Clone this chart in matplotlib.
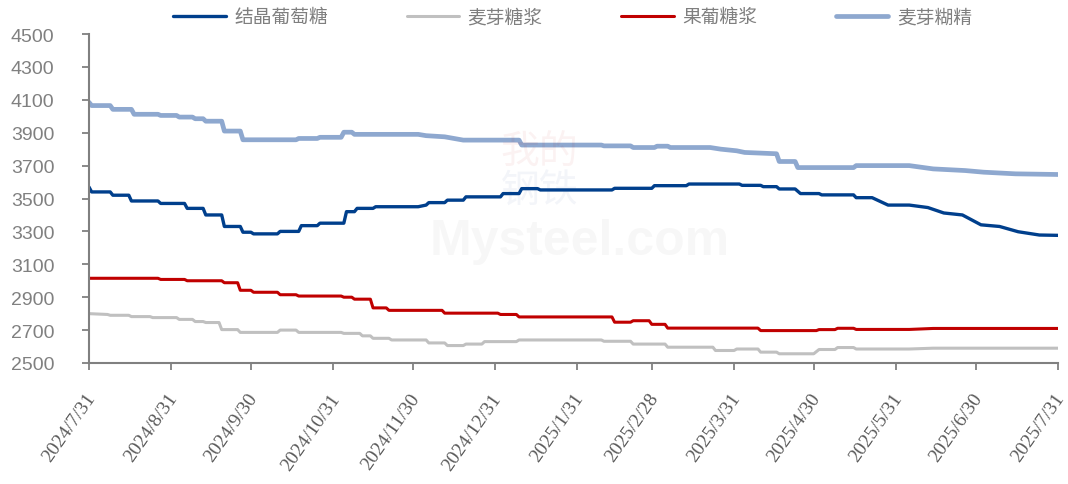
import matplotlib
matplotlib.use("Agg")
import matplotlib.pyplot as plt
import matplotlib.transforms as mtransforms
import pandas as pd

# ---------------- data ----------------
glucose_dates = ["2024-07-31","2024-08-01","2024-08-08","2024-08-09","2024-08-15","2024-08-16","2024-08-26","2024-08-27",
                 "2024-09-05","2024-09-06","2024-09-12","2024-09-13","2024-09-19","2024-09-20","2024-09-26","2024-09-27",
                 "2024-09-30","2024-10-01","2024-10-10","2024-10-11","2024-10-18","2024-10-19","2024-10-25","2024-10-26",
                 "2024-11-04","2024-11-05","2024-11-08","2024-11-09","2024-11-15","2024-11-16","2024-12-02","2024-12-05",
                 "2024-12-06","2024-12-12","2024-12-13","2024-12-19","2024-12-20","2025-01-02","2025-01-03","2025-01-09",
                 "2025-01-10","2025-01-16","2025-01-17","2025-02-13","2025-02-14","2025-02-28","2025-03-01","2025-03-13",
                 "2025-03-14","2025-04-02","2025-04-03","2025-04-10","2025-04-11","2025-04-16","2025-04-17","2025-04-23",
                 "2025-04-25","2025-05-02","2025-05-03","2025-05-15","2025-05-16","2025-05-22","2025-05-28","2025-06-05",
                 "2025-06-12","2025-06-18","2025-06-25","2025-07-02","2025-07-09","2025-07-16","2025-07-24","2025-07-31"]
glucose_values = [3570,3540,3540,3520,3520,3485,3485,3470,
                  3470,3440,3440,3400,3400,3330,3330,3295,
                  3295,3285,3285,3300,3300,3335,3335,3350,
                  3350,3420,3420,3440,3440,3450,3450,3460,
                  3475,3475,3490,3490,3510,3510,3530,3530,
                  3560,3560,3552,3552,3562,3562,3578,3578,
                  3588,3588,3580,3580,3572,3572,3558,3558,
                  3530,3530,3522,3522,3505,3505,3460,3460,
                  3445,3412,3400,3340,3330,3298,3278,3276]

maltose_dates = ["2024-07-31","2024-08-07","2024-08-08","2024-08-15","2024-08-16","2024-08-23","2024-08-24","2024-09-02",
                 "2024-09-03","2024-09-08","2024-09-09","2024-09-12","2024-09-13","2024-09-18","2024-09-19","2024-09-25",
                 "2024-09-26","2024-10-10","2024-10-11","2024-10-17","2024-10-18","2024-11-03","2024-11-04","2024-11-10",
                 "2024-11-11","2024-11-14","2024-11-15","2024-11-21","2024-11-22","2024-12-05","2024-12-06","2024-12-12",
                 "2024-12-13","2024-12-19","2024-12-20","2024-12-26","2024-12-27","2025-01-08","2025-01-09","2025-02-09",
                 "2025-02-10","2025-02-20","2025-02-21","2025-03-05","2025-03-06","2025-03-23","2025-03-24","2025-03-31",
                 "2025-04-01","2025-04-09","2025-04-10","2025-04-16","2025-04-17","2025-04-30","2025-05-02","2025-05-08",
                 "2025-05-09","2025-05-15","2025-05-16","2025-06-05","2025-06-14","2025-07-31"]
maltose_values = [2800,2795,2790,2790,2782,2782,2776,2776,
                  2765,2765,2752,2752,2746,2746,2703,2703,
                  2686,2686,2700,2700,2686,2686,2680,2680,
                  2665,2665,2650,2650,2640,2640,2622,2622,
                  2606,2606,2615,2615,2630,2630,2640,2640,
                  2632,2632,2615,2615,2596,2596,2576,2576,
                  2585,2585,2566,2566,2556,2556,2582,2582,
                  2594,2594,2585,2585,2590,2590]

hfcs_dates = ["2024-07-31","2024-08-26","2024-08-27","2024-09-05","2024-09-06","2024-09-19","2024-09-20","2024-09-25",
              "2024-09-26","2024-09-30","2024-10-01","2024-10-10","2024-10-11","2024-10-17","2024-10-18","2024-11-03",
              "2024-11-04","2024-11-07","2024-11-08","2024-11-14","2024-11-15","2024-11-20","2024-11-21","2024-12-11",
              "2024-12-12","2025-01-01","2025-01-02","2025-01-08","2025-01-09","2025-02-13","2025-02-14","2025-02-20",
              "2025-02-21","2025-02-27","2025-02-28","2025-03-05","2025-03-06","2025-04-09","2025-04-10","2025-05-01",
              "2025-05-02","2025-05-08","2025-05-09","2025-05-15","2025-05-16","2025-06-05","2025-06-14","2025-07-31"]
hfcs_values = [3015,3015,3008,3008,3000,3000,2988,2988,
               2942,2942,2930,2930,2915,2915,2907,2907,
               2900,2900,2888,2888,2835,2835,2820,2820,
               2803,2803,2795,2795,2780,2780,2748,2748,
               2757,2757,2735,2735,2712,2712,2697,2697,
               2703,2703,2711,2711,2704,2704,2710,2710]

dextrin_dates = ["2024-07-31","2024-08-01","2024-08-08","2024-08-09","2024-08-16","2024-08-17","2024-08-26","2024-08-27",
                 "2024-09-02","2024-09-03","2024-09-08","2024-09-09","2024-09-12","2024-09-13","2024-09-19","2024-09-20",
                 "2024-09-26","2024-09-27","2024-10-17","2024-10-18","2024-10-25","2024-10-26","2024-11-03","2024-11-04",
                 "2024-11-07","2024-11-08","2024-12-02","2024-12-05","2024-12-12","2024-12-19","2025-01-09","2025-01-10",
                 "2025-02-09","2025-02-10","2025-02-20","2025-02-21","2025-03-01","2025-03-02","2025-03-06","2025-03-07",
                 "2025-03-22","2025-03-26","2025-04-01","2025-04-04","2025-04-16","2025-04-17","2025-04-23","2025-04-24",
                 "2025-05-15","2025-05-16","2025-06-05","2025-06-14","2025-06-26","2025-07-03","2025-07-15","2025-07-31"]
dextrin_values = [4085,4065,4065,4042,4042,4012,4012,4005,
                  4005,3995,3995,3985,3985,3970,3970,3910,
                  3910,3857,3857,3865,3865,3872,3872,3903,
                  3903,3890,3890,3882,3875,3855,3855,3825,
                  3825,3820,3820,3810,3810,3818,3818,3810,
                  3810,3800,3790,3780,3772,3725,3725,3688,
                  3688,3700,3700,3680,3670,3660,3650,3646]

series_names = ["结晶葡萄糖", "麦芽糖浆", "果葡糖浆", "麦芽糊精"]
tick_dates = ["2024-07-31","2024-08-31","2024-09-30","2024-10-31","2024-11-30","2024-12-31",
              "2025-01-31","2025-02-28","2025-03-31","2025-04-30","2025-05-31","2025-06-30","2025-07-31"]
tick_labels = ["2024/7/31","2024/8/31","2024/9/30","2024/10/31","2024/11/30","2024/12/31",
               "2025/1/31","2025/2/28","2025/3/31","2025/4/30","2025/5/31","2025/6/30","2025/7/31"]
y_ticks = list(range(2500, 4501, 200))

# ---------------- plot ----------------
fig = plt.figure(figsize=(10.68, 4.85), dpi=100)
ax = fig.add_axes([0.0833, 0.2495, 0.9073, 0.6783])

# faint watermark
fig.text(0.543, 0.501, "Mysteel.com", fontsize=36, fontweight="bold", color="#000000", alpha=0.03,
         ha="center", va="center", family="Liberation Sans", zorder=0)
fig.text(0.505, 0.687, "我的", fontsize=28, color="#c00000", alpha=0.05,
         ha="center", va="center", family=["Noto Sans CJK SC", "DejaVu Sans"], zorder=0)
fig.text(0.505, 0.604, "钢铁", fontsize=28, color="#1f3f8f", alpha=0.05,
         ha="center", va="center", family=["Noto Sans CJK SC", "DejaVu Sans"], zorder=0)

series = [
    (glucose_dates, glucose_values, "#003f8c", 2.4),
    (maltose_dates, maltose_values, "#c0c0c0", 2.2),
    (hfcs_dates, hfcs_values, "#c00000", 2.2),
    (dextrin_dates, dextrin_values, "#8ea8cf", 3.4),
]
for (d, v, c, lw), name in zip(series, series_names):
    ax.plot(pd.to_datetime(d), v, color=c, lw=lw, label=name, solid_capstyle="round",
            solid_joinstyle="round")

ax.patch.set_alpha(0)
ax.set_xlim(pd.Timestamp("2024-07-31"), pd.Timestamp("2025-07-31"))
ax.set_ylim(2500, 4500)
ax.set_yticks(y_ticks)
ticks = pd.to_datetime(tick_dates)
ax.set_xticks(ticks)
ax.set_xticklabels([])

# rotated date labels placed under each tick
base = mtransforms.blended_transform_factory(ax.transData, ax.transAxes)
lab_tr = mtransforms.offset_copy(base, fig=fig, x=-4, y=-27, units="dots")
for t, s in zip(ticks, tick_labels):
    ax.text(t, 0, s, transform=lab_tr, rotation=55, ha="right", va="top",
            rotation_mode="anchor", family="Liberation Serif", fontsize=14,
            color="#595959", clip_on=False)

for lab in ax.get_yticklabels():
    lab.set_fontfamily("Liberation Sans")
    lab.set_fontsize(14)
    lab.set_color("#808080")

for s in ["top", "right"]:
    ax.spines[s].set_visible(False)
for s in ["left", "bottom"]:
    ax.spines[s].set_color("#808080")
    ax.spines[s].set_linewidth(1.5)
ax.tick_params(axis="both", direction="out", length=5, width=1.3, color="#808080")
ax.tick_params(axis="y", pad=20)

leg = fig.legend(loc="center", bbox_to_anchor=(0.536, 0.963), ncol=4, frameon=False,
                 prop={"family": ["Noto Sans CJK SC", "DejaVu Sans"], "size": 13.5},
                 handlelength=2.8, handletextpad=0.45, columnspacing=4.2)
for t in leg.get_texts():
    t.set_color("#7f7f7f")

fig.savefig("out.png", dpi=100)
